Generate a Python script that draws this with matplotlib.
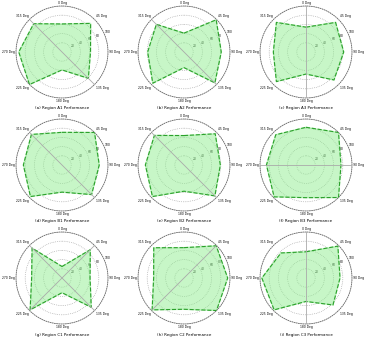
import numpy as np
import matplotlib
matplotlib.use("Agg")
import matplotlib.pyplot as plt

# spokes, clockwise from the top
categories = ['0 Deg', '45 Deg', '90 Deg', '135 Deg', '180 Deg', '225 Deg', '270 Deg', '315 Deg']

titles = ['(a) Region A1 Performance', '(b) Region A2 Performance', '(c) Region A3 Performance',
          '(d) Region B1 Performance', '(e) Region B2 Performance', '(f) Region B3 Performance',
          '(g) Region C1 Performance', '(h) Region C2 Performance', '(i) Region C3 Performance']

# values, same order as categories
values_a = [61, 88, 62, 81, 39, 100, 94, 87]
values_b = [41, 99, 81, 95, 34, 96, 79, 85]
values_c = [54, 91, 82, 86, 48, 91, 71, 91]
values_d = [71, 100, 81, 91, 59, 97, 84, 94]
values_e = [64, 96, 79, 95, 57, 97, 84, 91]
values_f = [82, 100, 76, 100, 71, 98, 86, 93]
values_g = [25, 87, 61, 90, 32, 98, 66, 92]
values_h = [66, 99, 95, 100, 68, 98, 66, 93]
values_i = [57, 98, 74, 83, 51, 98, 96, 77]
all_values = [values_a, values_b, values_c, values_d, values_e,
              values_f, values_g, values_h, values_i]

# gray reference lines (spoke index) drawn across each chart
ref_spokes = [[7], [7], [0], [7], [7], [2], [7, 1], [1], [0]]

r_ticks = [20, 40, 60, 80, 100]

fig = plt.figure(figsize=(3.66, 3.40), dpi=100)
W, H = 366.0, 340.0
col_x = [62, 184, 306]
row_y = [52, 165, 278]
title_y = [108, 221, 335]
rad = 46

n = len(categories)
angles = np.linspace(0, 2 * np.pi, n, endpoint=False)
# label placement around the rim (top, NE, E, SE, bottom, SW, W, NW)
lab_r = [107, 103, 103, 103, 107, 103, 103, 103]
lab_ha = ['center', 'left', 'left', 'left', 'center', 'right', 'right', 'right']
lab_va = ['center', 'bottom', 'center', 'top', 'center', 'top', 'center', 'bottom']

for k, vals in enumerate(all_values):
    i, j = divmod(k, 3)
    cx, cy = col_x[j], row_y[i]
    ax = fig.add_axes([(cx - rad) / W, 1 - (cy + rad) / H, 2 * rad / W, 2 * rad / H],
                      projection='polar')
    ax.set_theta_zero_location('N')
    ax.set_theta_direction(-1)
    ax.set_ylim(0, 100)

    th = np.append(angles, angles[0])
    v = np.append(vals, vals[0])
    ax.fill(th, v, color='#90ee90', alpha=0.5, zorder=2)
    ax.plot(th, v, color='#2ca02c', lw=0.8, ls='--', zorder=3)

    for s in ref_spokes[k]:
        a = angles[s]
        ax.plot([a, 0, a + np.pi], [100, 0, 100], color='#aaaaaa', lw=0.6, zorder=4)

    ax.set_xticks(angles)
    ax.set_xticklabels([])
    ax.tick_params(axis='x', length=0)
    for a, lab, r, ha, va in zip(angles, categories, lab_r, lab_ha, lab_va):
        ax.text(a, r, lab, fontsize=2.2, ha=ha, va=va, clip_on=False)

    ax.tick_params(axis='y', length=0, pad=0)
    ax.set_yticks(r_ticks)
    ax.set_yticklabels([str(t) for t in r_ticks], fontsize=2.2)
    ax.set_rlabel_position(67.5)
    ax.grid(True, ls=':', lw=0.5, color='#999999')
    ax.xaxis.grid(False)
    ax.spines['polar'].set_linestyle(':')
    ax.spines['polar'].set_linewidth(0.6)
    ax.spines['polar'].set_color('#666666')

    fig.text(cx / W, 1 - title_y[i] / H, titles[k], fontsize=2.9,
             ha='center', va='center')

fig.savefig('out.png', dpi=100)
